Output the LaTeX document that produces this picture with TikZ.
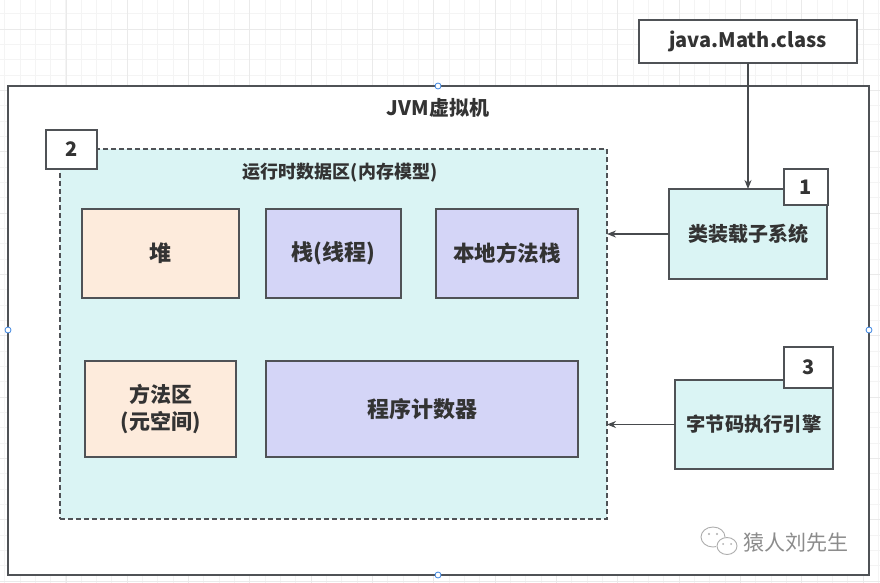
\documentclass[tikz,border=0pt]{standalone}
\usepackage{fontspec}
\setmainfont{Noto Sans CJK SC}
\usetikzlibrary{arrows.meta}
\definecolor{edge}{HTML}{4F5256}
\definecolor{teal}{HTML}{DAF4F4}
\definecolor{peach}{HTML}{FDEBDC}
\definecolor{lav}{HTML}{D4D5F7}
\definecolor{txt}{HTML}{333333}
\definecolor{gridminor}{HTML}{F4F4F4}
\definecolor{gridmajor}{HTML}{EAEAEA}
\definecolor{handle}{HTML}{3D85E0}
\definecolor{wm}{HTML}{8C8C8C}
\tikzset{
  box/.style={draw=edge, line width=1.4pt, inner sep=0pt, outer sep=0pt, anchor=north west, text=txt, font=\bfseries\fontsize{22}{26}\selectfont, align=center},
  badge/.style={box, fill=white, font=\bfseries\fontsize{20}{24}\selectfont},
  arr/.style={draw=edge!90!black, line width=1.3pt, -{Stealth[length=9pt,width=7pt]}},
  hnd/.style={draw=handle, fill=white, line width=0.8pt},
}
\begin{document}
\begin{tikzpicture}[x=1pt,y=-1pt]
\useasboundingbox (0,0) rectangle (880,583);
% grid
\foreach \x in {4.67,20,...,880} \draw[gridminor, line width=1pt] (\x,0) -- (\x,583);
\foreach \y in {13.97,29.3,...,583} \draw[gridminor, line width=1pt] (0,\y) -- (880,\y);
\foreach \x in {66,127.33,...,880} \draw[gridmajor, line width=1pt] (\x,0) -- (\x,583);
\foreach \y in {29.3,90.63,...,583} \draw[gridmajor, line width=1pt] (0,\y) -- (880,\y);

% outer JVM box
\node[box, fill=white, minimum width=861pt, minimum height=489pt] (jvm) at (8,86) {};
\node[text=txt, font=\bfseries\fontsize{20}{24}\selectfont] (jvmt) at (438,108) {JVM虚拟机};

% runtime data area
\node[box, fill=teal, dash pattern=on 5pt off 3pt, minimum width=547pt, minimum height=370pt] (rda) at (60,149) {};
\node[text=txt, font=\bfseries\fontsize{18}{21}\selectfont] (rdat) at (340,173) {运行时数据区(内存模型)};
\node[badge, minimum width=51pt, minimum height=39pt] (b2) at (46,130) {2};

% inner blocks
\node[box, fill=peach, minimum width=157pt, minimum height=89pt] (heap) at (82,209) {堆};
\node[box, fill=lav, minimum width=135pt, minimum height=89pt] (stack) at (266,209) {栈(线程)};
\node[box, fill=lav, minimum width=142pt, minimum height=89pt, font=\bfseries\fontsize{21.5}{26}\selectfont] (native) at (436,209) {本地方法栈};
\node[box, fill=peach, minimum width=151pt, minimum height=96pt, font=\bfseries\fontsize{21}{27}\selectfont] (meth) at (85,361) {方法区\\(元空间)};
\node[box, fill=lav, minimum width=312pt, minimum height=96pt, font=\bfseries\fontsize{22}{26}\selectfont] (pc) at (266,361) {程序计数器};

% java class file
\node[box, fill=white, minimum width=218pt, minimum height=43pt, font=\bfseries\fontsize{20}{24}\selectfont] (java) at (639,20) {java.Math.class};

% class loader
\node[box, fill=teal, minimum width=158pt, minimum height=90pt, font=\bfseries\fontsize{20}{24}\selectfont] (loader) at (669,189) {类装载子系统};
\node[badge, minimum width=44pt, minimum height=36pt] (b1) at (784,169) {1};

% execution engine
\node[box, fill=teal, minimum width=158pt, minimum height=89pt, font=\bfseries\fontsize{19.3}{23}\selectfont] (engine) at (675,380) {字节码执行引擎};
\node[badge, minimum width=49pt, minimum height=41pt] (b3) at (784,347) {3};

% connectors
\draw[arr] (java.south) -- (loader.north);
\draw[arr] (loader.west) -- (loader.west -| rda.east);
\draw[arr] (engine.west) -- (engine.west -| rda.east);

% selection handles
\draw[hnd] (438,86) circle (3pt);
\draw[hnd] (8,330) circle (3pt);
\draw[hnd] (869,330) circle (3pt);
\draw[hnd] (438,575) circle (3pt);

% watermark
\draw[wm!70, line width=0.9pt] (713,537) ellipse (12pt and 10pt);
\fill[white] (727,546) ellipse (11pt and 9pt);
\draw[wm!70, line width=0.9pt] (727,546) ellipse (10pt and 8.5pt);
\fill[wm!70] (709,534) circle (1.1pt) (717,534) circle (1.1pt) (723,544) circle (1pt) (731,544) circle (1pt);
\node[text=wm, font=\fontsize{21}{24}\selectfont] (wmt) at (796,543) {猿人刘先生};
\end{tikzpicture}
\end{document}
